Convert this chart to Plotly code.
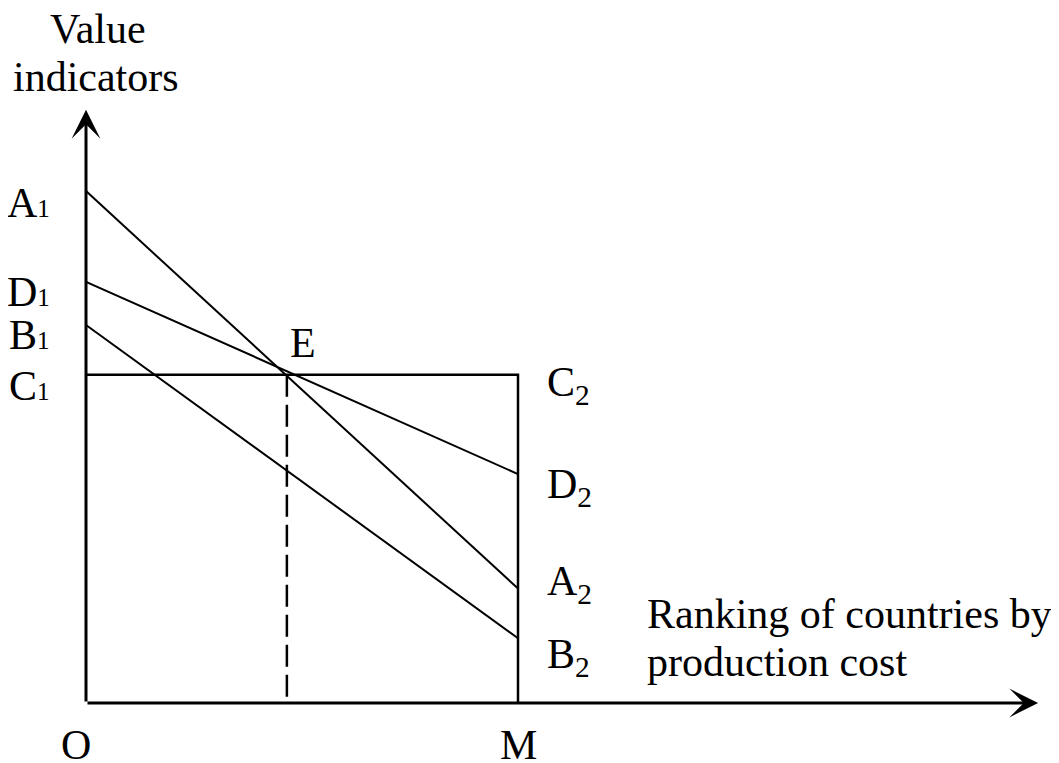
import plotly.graph_objects as go

# x: ranking of countries (O .. M), y: value indicators
x_ends = [0, 10]
e_x = 4.65
c_level = 7.6
line_a = [11.85, 2.65]
line_d = [9.75, 5.3]
line_b = [8.75, 1.5]
x_tip = 22.04
y_tip = 13.73

FONT = "Liberation Serif, Times New Roman, serif"
W, H = 1051, 755  # page body adds an 8px margin
PX = 43.2  # pixels per unit, same for both axes
OX, OY = 86 - 8, 703 - 8  # origin inside the figure

fig = go.Figure()

for vals in (line_a, line_d, line_b):
    fig.add_trace(
        go.Scatter(x=x_ends, y=vals, mode="lines", line=dict(color="black", width=2))
    )

# C1 - C2 - M box edge
fig.add_trace(
    go.Scatter(
        x=[x_ends[0], x_ends[1], x_ends[1]],
        y=[c_level, c_level, 0],
        mode="lines",
        line=dict(color="black", width=2.5),
    )
)

# dashed drop from E
fig.add_trace(
    go.Scatter(
        x=[e_x, e_x],
        y=[c_level, 0],
        mode="lines",
        line=dict(color="black", width=2.5, dash="22px,8px"),
    )
)

# axes with arrows
for tip, tail in (((x_tip, 0), (0, 0)), ((0, y_tip), (0, 0))):
    fig.add_annotation(
        x=tip[0], y=tip[1], ax=tail[0], ay=tail[1],
        xref="x", yref="y", axref="x", ayref="y",
        text="", showarrow=True, arrowhead=3, arrowsize=1.6,
        arrowwidth=3, arrowcolor="black",
    )


def label(text, x, y, xanchor="center", xshift=0, yshift=0):
    fig.add_annotation(
        x=x, y=y, text=text, showarrow=False,
        xanchor=xanchor, yanchor="middle",
        xshift=xshift, yshift=yshift,
        font=dict(family=FONT, size=42, color="black"),
    )


sub_l = "<span style='font-size:25px'>{}</span>"

label("A" + sub_l.format("1"), 0, line_a[0], "right", -34, -12)
label("D" + sub_l.format("1"), 0, line_d[0], "right", -34, -10)
label("B" + sub_l.format("1"), 0, line_b[0], "right", -34, -10)
label("C" + sub_l.format("1"), 0, c_level, "right", -34, -11)

label("C<sub>2</sub>", 10, c_level, "left", 27, -10)
label("D<sub>2</sub>", 10, line_d[1], "left", 27, -13)
label("A<sub>2</sub>", 10, line_a[1], "left", 27, 5)
label("B<sub>2</sub>", 10, line_b[1], "left", 27, -19)

label("E", e_x, c_level, "center", 16, 32)
label("O", 0, 0, "center", -10, -42)
label("M", 10, 0, "center", 0, -42)

label("Value", 0, y_tip, "center", 12, 81)
label("indicators", 0, y_tip, "center", 10, 33)
label("Ranking of countries by", 10, 0, "left", 127, 89)
label("production cost", 10, 0, "left", 127, 41)

fig.update_layout(
    width=W,
    height=H,
    autosize=False,
    margin=dict(l=0, r=0, t=0, b=0),
    plot_bgcolor="white",
    paper_bgcolor="white",
    showlegend=False,
)
fig.update_xaxes(
    range=[-OX / PX, (W - OX) / PX], visible=False, showgrid=False, zeroline=False
)
fig.update_yaxes(
    range=[(OY - H) / PX, OY / PX], visible=False, showgrid=False, zeroline=False
)

fig.write_html("out.html")
